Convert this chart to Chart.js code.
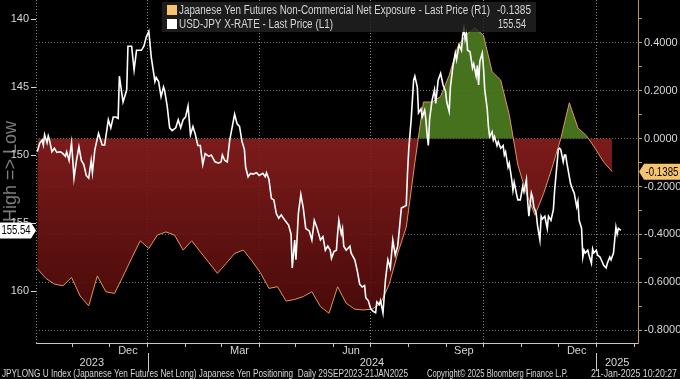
<!DOCTYPE html>
<html><head><meta charset="utf-8">
<script src="https://cdn.jsdelivr.net/npm/chart.js@4.4.1/dist/chart.umd.min.js"></script>
<style>html,body{margin:0;padding:0;background:#000;}canvas{display:block;}</style>
</head><body>
<canvas id="c" width="680" height="379"></canvas>
<script>
// ---------------- DATA ----------------
const seriesStart = '2023-09-29';           // day 0
const axisStart = '2023-10-02';
const axisEnd = '2025-02-04';

// Japanese Yen Futures Non-Commercial Net Exposure (weekly, right axis)
const cftcFirstDate = '2023-10-03';
const cftcValues = [
  -0.543,-0.584,-0.608,-0.615,-0.580,-0.658,-0.699,-0.574,-0.640,-0.647,
  -0.575,-0.500,-0.427,-0.459,-0.403,-0.390,-0.403,-0.466,-0.427,-0.473,
  -0.518,-0.563,-0.522,-0.480,-0.466,-0.510,-0.560,-0.626,-0.619,-0.679,
  -0.672,-0.660,-0.640,-0.702,-0.730,-0.619,-0.688,-0.713,-0.716,-0.713,
  -0.690,-0.610,-0.480,-0.370,-0.100, 0.153, 0.153, 0.176, 0.265, 0.385,
   0.435, 0.463, 0.431, 0.280, 0.245, 0.100,-0.110,-0.230,-0.320,-0.230,
  -0.120, 0.000, 0.150, 0.045, 0.012,-0.040,-0.098,-0.1385
];

// USD-JPY (left axis, inverted); days counted from seriesStart
const usdjpyDays = [
  4,6,8,9,10,12,13,14,16,18,20,23,25,27,28,30,32,34,36,38,
  40,42,44,46,48,49,51,54,57,59,62,64,66,68,70,71,74,77,78,81,
  83,85,89,91,93,95,97,100,101,103,105,107,108,110,112,114,117,119,121,123,
  125,127,129,131,133,135,137,139,141,144,146,149,152,154,155,157,159,161,165,167,
  169,171,173,174,176,178,180,183,185,188,190,191,193,195,197,199,201,203,206,209,
  211,212,214,215,217,219,221,223,226,228,230,232,235,237,239,241,243,244,246,248,
  249,250,252,253,254,256,259,260,263,265,267,269,271,272,274,276,278,280,281,283,
  284,286,288,290,292,294,296,298,299,301,303,305,306,307,309,311,312,314,315,317,
  318,320,321,322,323,324,326,328,329,331,333,335,337,338,340,341,343,345,346,348,
  350,351,352,353,354,355,357,358,359,360,362,363,364,365,367,368,369,371,372,373,
  375,376,377,379,380,382,384,385,386,388,389,391,392,393,395,396,398,400,401,403,
  404,405,407,408,409,411,412,414,415,416,418,420,421,423,425,426,427,429,430,431,
  433,434,435,436,438,439,441,442,444,445,446,448,449,450,451,453,454,456,457,458,
  460,461,463,464,466,468,469,471,472,474,475,476,477,478,480
];
const usdjpyValues = [
  149.76,149.14,148.9,149.26,148.5,149.1,148.6,148.9,149.76,149.5,149.8,149.76,149.9,150.1,149.76,150.4,149.1,151.7,150.4,149.4,
  150.4,150.7,151.5,151.7,150.4,151.3,149.6,148.4,149.26,149.26,147.4,148.0,147.2,147.2,147.3,144.2,146.1,145.2,142.0,142.0,
  143.75,142.3,142.3,142.0,141.3,140.9,142.8,144.6,144.3,144.6,145.7,145.0,145.3,146.4,148.0,148.2,148.0,147.4,148.0,147.4,
  147.2,146.4,148.5,147.9,148.5,149.3,149.3,150.7,149.9,150.1,150.0,150.5,150.6,150.5,150.0,150.4,150.5,148.9,147.0,147.7,
  147.9,149.0,149.6,150.9,151.6,151.35,151.4,151.3,151.5,151.35,151.6,151.3,151.8,153.2,153.3,154.3,154.65,154.4,154.8,155.15,
  155.8,158.3,156.25,157.7,154.3,152.9,153.9,155.4,155.6,156.25,154.8,155.3,156.25,156.0,157.0,156.7,157.0,157.6,157.1,157.0,
  155.8,154.8,155.8,155.4,156.7,157.0,156.7,157.2,157.7,158.5,159.5,159.7,159.6,160.5,160.7,161.3,161.5,161.6,160.8,161.0,
  160.7,161.6,159.2,157.7,158.3,156.25,157.35,156.7,155.8,153.9,153.8,153.7,151.35,149.6,147.4,144.5,144.2,145.0,146.9,146.6,
  147.2,146.7,147.4,148.5,149.3,147.4,146.0,145.2,146.2,144.5,144.0,144.85,145.3,146.1,146.8,145.0,143.5,142.5,143.0,141.9,
  142.3,141.2,140.7,141.5,141.05,142.3,142.4,143.0,143.6,143.3,144.2,143.4,144.85,143.1,142.5,143.6,145.2,146.6,147.9,148.65,
  148.3,148.9,148.65,149.3,149.0,149.5,149.3,150.0,149.76,150.9,150.6,151.8,152.6,152.0,152.9,153.3,153.3,152.3,152.7,151.8,
  153.4,154.5,152.8,153.1,153.8,154.3,155.15,156.25,154.5,154.7,154.5,155.4,154.5,154.8,154.0,152.6,151.6,149.6,149.5,149.6,
  150.5,150.0,150.0,150.6,151.6,152.1,152.6,152.8,153.8,153.4,154.8,155.4,157.5,157.0,157.2,157.0,157.35,157.96,156.9,157.2,
  157.0,157.35,157.5,157.7,158.1,158.3,157.96,157.5,157.7,157.2,156.25,155.3,155.8,155.4,155.54
];

const leftTicks = [140, 145, 150, 155, 160];
const rightTicks = [-0.8,-0.7,-0.6,-0.5,-0.4,-0.3,-0.2,-0.1,0,0.1,0.2,0.3,0.4,0.5];
const monthStarts = ['2023-11-01','2023-12-01','2024-01-01','2024-02-01','2024-03-01','2024-04-01',
  '2024-05-01','2024-06-01','2024-07-01','2024-08-01','2024-09-01','2024-10-01','2024-11-01',
  '2024-12-01','2025-01-01','2025-02-01'];
const quarterStarts = ['2024-01-01','2024-04-01','2024-07-01','2024-10-01','2025-01-01'];
const monthLabels = ['Dec','Mar','Jun','Sep','Dec'];
const monthLabelDates = ['2023-12-16','2024-03-16','2024-06-15','2024-09-15','2024-12-16'];
const yearLabels = ['2023','2024','2025'];
const yearStarts = ['2024-01-01','2025-01-01'];

const legendTexts = ['Japanese Yen Futures Non-Commercial Net Exposure - Last Price (R1)',
                     'USD-JPY X-RATE - Last Price (L1)'];
const footerTexts = ['JPYLONG U Index (Japanese Yen Futures Net Long) Japanese Yen Positioning  Daily 29SEP2023-21JAN2025',
                     'Copyright\u00A9 2025 Bloomberg Finance L.P.',
                     '21-Jan-2025 10:20:27'];

// ---------------- HELPERS ----------------
const DAY = 86400000;
function dayOf(s){const [y,m,d]=s.split('-').map(Number);const [y0,m0,d0]=seriesStart.split('-').map(Number);
  return Math.round((Date.UTC(y,m-1,d)-Date.UTC(y0,m0-1,d0))/DAY);}
const xMin = dayOf(axisStart), xMax = dayOf(axisEnd);
const cftcDays = cftcValues.map((_, i) => dayOf(cftcFirstDate) + 7 * i);
const monthDays = monthStarts.map(dayOf).filter(d => d >= xMin && d <= xMax);
const quarterDays = quarterStarts.map(dayOf);
const monthLabelDays = monthLabelDates.map(dayOf);
const yearBounds = [xMin, ...yearStarts.map(dayOf), xMax];
const yearLabelDays = yearLabels.map((_, i) => (yearBounds[i] + yearBounds[i+1]) / 2);

const SANS = "'Liberation Sans',Arial,sans-serif";
const TXT = '#d6d6d6';
const TAN = '#b8955a';

function zeroPad(s){s.paddingTop=0;s.paddingBottom=0;s.paddingLeft=0;s.paddingRight=0;}

// draws text condensed horizontally to a given width (Bloomberg narrow look)
function fitText(ctx, text, x, y, align, size, width) {
  ctx.font = size + 'px ' + SANS;
  const w = ctx.measureText(text).width;
  const k = width ? width / w : 1;
  ctx.save(); ctx.translate(x, y); ctx.scale(k, 1);
  ctx.textAlign = align; ctx.textBaseline = 'middle';
  ctx.fillText(text, 0, 0); ctx.restore();
}

const overlay = {
  id: 'overlay',
  afterDraw(chart) {
    const ctx = chart.ctx;
    const yL = chart.scales.yL, yR = chart.scales.yR, x3 = chart.scales.x3, x2 = chart.scales.x2;
    ctx.save();
    // year separators
    ctx.strokeStyle = '#c8c8c8'; ctx.lineWidth = 1;
    yearStarts.map(dayOf).forEach(d => {
      const px = Math.round(x3.getPixelForValue(d)) + 0.5;
      ctx.beginPath(); ctx.moveTo(px, x2.top + 9); ctx.lineTo(px, x3.bottom + 2); ctx.stroke();
    });
    // legend box
    ctx.fillStyle = 'rgba(34,34,34,0.82)';
    ctx.fillRect(162, 2, 374, 30);
    const lastC = cftcValues[cftcValues.length-1], lastU = usdjpyValues[usdjpyValues.length-1];
    ctx.fillStyle = '#f8c46f'; ctx.fillRect(167, 5, 10, 10);
    ctx.fillStyle = '#ffffff'; ctx.fillRect(167, 19, 10, 10);
    ctx.fillStyle = TXT;
    fitText(ctx, legendTexts[0], 179, 10.5, 'left', 12, 311);
    fitText(ctx, legendTexts[1], 179, 24.5, 'left', 12, 154);
    fitText(ctx, lastC.toFixed(4), 531, 10.5, 'right', 12, 34);
    fitText(ctx, lastU.toFixed(2), 526, 24.5, 'right', 12, 28);
    // last value tag left
    let py = yL.getPixelForValue(lastU);
    ctx.fillStyle = '#ffffff';
    ctx.beginPath(); ctx.moveTo(0, py-8); ctx.lineTo(31, py-8); ctx.lineTo(36, py); ctx.lineTo(31, py+8); ctx.lineTo(0, py+8); ctx.closePath(); ctx.fill();
    ctx.fillStyle = '#000';
    fitText(ctx, lastU.toFixed(2), 16, py + 0.5, 'center', 12, 29);
    // last value tag right
    py = yR.getPixelForValue(lastC);
    const rx = yR.left;
    ctx.fillStyle = '#f6c36e';
    ctx.beginPath(); ctx.moveTo(rx+1, py); ctx.lineTo(rx+6, py-8); ctx.lineTo(680, py-8); ctx.lineTo(680, py+8); ctx.lineTo(rx+6, py+8); ctx.closePath(); ctx.fill();
    ctx.fillStyle = '#000';
    fitText(ctx, lastC.toFixed(4), rx + 24, py + 0.5, 'center', 12, 33);
    // footer
    ctx.fillStyle = TXT;
    fitText(ctx, footerTexts[0], 2, 374, 'left', 11, 406);
    fitText(ctx, footerTexts[1], 427, 374, 'left', 11, 141);
    fitText(ctx, footerTexts[2], 677, 374, 'right', 11, 86);
    ctx.restore();
  }
};

new Chart(document.getElementById('c'), {
  type: 'line',
  data: {
    datasets: [
      {
        label: legendTexts[1],
        data: usdjpyDays.map((d, i) => ({x: d, y: usdjpyValues[i]})),
        yAxisID: 'yL', xAxisID: 'x',
        borderColor: '#ffffff', borderWidth: 1.6, pointRadius: 0, fill: false, tension: 0
      },
      {
        label: legendTexts[0],
        data: cftcDays.map((d, i) => ({x: d, y: cftcValues[i]})),
        yAxisID: 'yR', xAxisID: 'x',
        borderColor: '#e0935a', borderWidth: 1, pointRadius: 0, tension: 0,
        fill: {target: {value: 0}, above: 'rgba(76,124,31,0.92)'},
        backgroundColor: (c) => {
          const ch = c.chart, a = ch.chartArea;
          if (!a || !ch.scales.yR) return 'rgba(120,22,22,0.9)';
          const y0 = ch.scales.yR.getPixelForValue(0);
          const g = ch.ctx.createLinearGradient(0, y0, 0, a.bottom);
          g.addColorStop(0, 'rgba(138,30,30,0.9)');
          g.addColorStop(1, 'rgba(72,8,8,0.9)');
          return g;
        }
      }
    ]
  },
  options: {
    responsive: false, animation: false, devicePixelRatio: 1, events: [],
    layout: {padding: {left: 0, right: 0, top: 0, bottom: 10}},
    plugins: {legend: {display: false}, tooltip: {enabled: false}},
    scales: {
      x: {
        type: 'linear', position: 'bottom', weight: 0, min: xMin, max: xMax,
        afterBuildTicks: s => { s.ticks = [xMin, ...monthDays].map(v => ({value: v})); },
        ticks: {display: false},
        grid: {
          display: true, drawOnChartArea: true, drawTicks: true, tickLength: 4, lineWidth: 1,
          color: c => (c.tick && (quarterDays.includes(c.tick.value) || c.tick.value === xMin)) ? '#8a8a8a' : 'transparent',
          tickColor: c => (c.tick && monthDays.includes(c.tick.value)) ? '#c8c8c8' : 'transparent'
        },
        border: {display: true, color: '#c8c8c8', width: 1, dash: [1, 2]},
        afterFit: s => { s.height = 1; zeroPad(s); }
      },
      x2: {
        type: 'linear', position: 'bottom', weight: 1, min: xMin, max: xMax,
        afterBuildTicks: s => { s.ticks = monthLabelDays.map(v => ({value: v})); },
        ticks: {color: TXT, font: {family: SANS, size: 11}, padding: 0, autoSkip: false, maxRotation: 0,
                callback: (v, i) => monthLabels[i]},
        grid: {display: false, drawTicks: false}, border: {display: false},
        afterFit: s => { s.height = 12; zeroPad(s); }
      },
      x3: {
        type: 'linear', position: 'bottom', weight: 2, min: xMin, max: xMax,
        afterBuildTicks: s => { s.ticks = yearLabelDays.map(v => ({value: v})); },
        ticks: {color: TXT, font: {family: SANS, size: 11}, padding: 0, autoSkip: false, maxRotation: 0,
                callback: (v, i) => yearLabels[i]},
        grid: {display: false, drawTicks: false}, border: {display: false},
        afterFit: s => { s.height = 13; zeroPad(s); }
      },
      yL: {
        type: 'linear', position: 'left', reverse: true, min: 138.6, max: 163.82,
        afterBuildTicks: s => { s.ticks = leftTicks.map(v => ({value: v})); },
        ticks: {color: TXT, font: {family: SANS, size: 11}, padding: 2},
        grid: {display: true, drawOnChartArea: false, drawTicks: true, tickLength: 5, tickColor: '#d8d8d8', color: 'transparent'},
        border: {display: false},
        title: {display: true, text: 'High => Low', color: '#7c7c7c', padding: {top: 0, bottom: 0},
                font: {family: SANS, size: 18}},
        afterFit: s => { s.width = 36; zeroPad(s); }
      },
      yR: {
        type: 'linear', position: 'right', min: -0.8542, max: 0.5794,
        afterBuildTicks: s => { s.ticks = rightTicks.map(v => ({value: v})); },
        ticks: {color: TXT, font: {family: SANS, size: 11}, padding: 2,
                callback: v => (Math.round(v * 10) % 2 === 0) ? v.toFixed(4) : ''},
        grid: {
          display: true, drawOnChartArea: true, drawTicks: true, tickLength: 4, tickColor: TAN,
          color: c => (c.tick && Math.round(c.tick.value * 10) % 2 === 0) ? '#6e6e6e' : 'transparent'
        },
        border: {display: true, color: TAN, width: 1, dash: [1, 2]},
        afterFit: s => { s.width = 42; zeroPad(s); }
      }
    }
  },
  plugins: [overlay]
});
</script>
</body></html>
